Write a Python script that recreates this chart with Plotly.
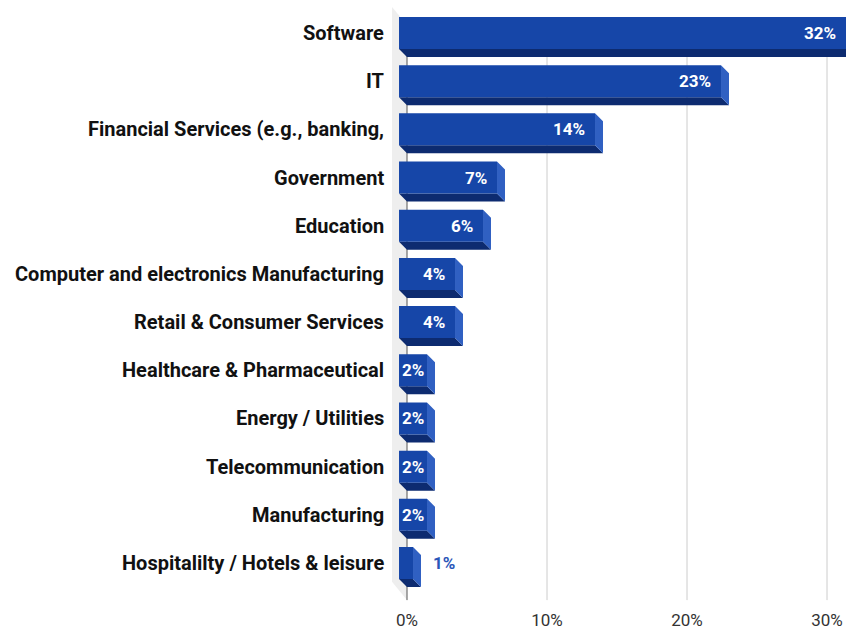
import plotly.graph_objects as go

# Survey share by industry (percent)
industries = [
    "Software",
    "IT",
    "Financial Services (e.g., banking,",
    "Government",
    "Education",
    "Computer and electronics Manufacturing",
    "Retail & Consumer Services",
    "Healthcare & Pharmaceutical",
    "Energy / Utilities",
    "Telecommunication",
    "Manufacturing",
    "Hospitalilty / Hotels & leisure",
]
shares = [32, 23, 14, 7, 6, 4, 4, 2, 2, 2, 2, 1]
tick_values = [0, 10, 20, 30]

# 3D extrusion geometry (x in percent units, y in category units)
DX = 0.57      # depth along x
DY = 0.166     # depth along y
HALF = 0.332   # half height of the front face
X_RANGE = [-1.357, 31.357]

FRONT = "#1646a8"
BOTTOM = "#0d2b70"
SIDE = "#3060c2"

fig = go.Figure()

def poly(points):
    xs = [p[0] for p in points] + [points[0][0]]
    ys = [p[1] for p in points] + [points[0][1]]
    return xs, ys

fronts_x, fronts_y = [], []
bottoms_x, bottoms_y = [], []
sides_x, sides_y = [], []
for i, v in enumerate(shares):
    x0, x1 = -DX, v - DX
    t, b = i - HALF, i + HALF
    fx, fy = poly([(x0, t), (x1, t), (x1, b), (x0, b)])
    bx, by = poly([(x0, b), (x1, b), (x1 + DX, b + DY), (x0 + DX, b + DY)])
    sx, sy = poly([(x1, t), (x1 + DX, t + DY), (x1 + DX, b + DY), (x1, b)])
    fronts_x += fx + [None]; fronts_y += fy + [None]
    bottoms_x += bx + [None]; bottoms_y += by + [None]
    sides_x += sx + [None]; sides_y += sy + [None]

for xs, ys, col in [(bottoms_x, bottoms_y, BOTTOM), (sides_x, sides_y, SIDE),
                    (fronts_x, fronts_y, FRONT)]:
    fig.add_trace(go.Scatter(x=xs, y=ys, mode="lines", fill="toself",
                             fillcolor=col, line=dict(width=0, color=col),
                             hoverinfo="skip", showlegend=False))

# Back plane extent
top_back = -HALF + DY
bottom_back = 11.77

shapes = []
# left wall
shapes.append(dict(type="path", xref="x", yref="y", layer="below",
                   path=f"M -1.07 -0.54 L 0 {top_back} L 0 {bottom_back} L -1.07 11.39 Z",
                   fillcolor="#eeeeee", line=dict(width=0)))
for tv in tick_values[1:]:
    shapes.append(dict(type="line", xref="x", yref="y", layer="below",
                       x0=tv, x1=tv, y0=top_back, y1=bottom_back,
                       line=dict(color="#cccccc", width=1)))
shapes.append(dict(type="line", xref="x", yref="y", layer="below",
                   x0=0, x1=0, y0=top_back, y1=bottom_back,
                   line=dict(color="#555555", width=1)))

annotations = []
for i, (name, v) in enumerate(zip(industries, shares)):
    annotations.append(dict(x=-DX, y=i, xref="x", yref="y", text=f"<b>{name}</b>",
                            xanchor="right", yanchor="middle", xshift=-13,
                            showarrow=False,
                            font=dict(family="Roboto", size=20, color="#111111")))
    label = f"<b>{v}%</b>"
    if v >= 4:
        annotations.append(dict(x=min(v - DX, X_RANGE[1]), y=i, xref="x", yref="y",
                                text=label, xanchor="right", yanchor="middle",
                                xshift=-8, showarrow=False,
                                font=dict(family="Roboto", size=17, color="white")))
    elif v >= 2:
        annotations.append(dict(x=v / 2 - DX, y=i, xref="x", yref="y", text=label,
                                xanchor="center", yanchor="middle",
                                showarrow=False,
                                font=dict(family="Roboto", size=17, color="white")))
    else:
        annotations.append(dict(x=v, y=i, xref="x", yref="y", text=label,
                                xanchor="left", yanchor="middle", xshift=10,
                                showarrow=False,
                                font=dict(family="Roboto", size=17, color="#2a56b8")))

fig.update_layout(
    width=846, height=630,
    margin=dict(l=388, r=0, t=0, b=27),
    paper_bgcolor="white", plot_bgcolor="white",
    shapes=shapes, annotations=annotations,
    xaxis=dict(range=X_RANGE, tickvals=tick_values,
               ticktext=[f"{t}%" for t in tick_values],
               showgrid=False, zeroline=False, showline=False, ticks="",
               ticklabelstandoff=5,
               tickfont=dict(family="Roboto", size=17, color="#333333")),
    yaxis=dict(range=[11.83, -0.685], showgrid=False, zeroline=False,
               showline=False, showticklabels=False, ticks=""),
)

fig.write_html("out.html")
